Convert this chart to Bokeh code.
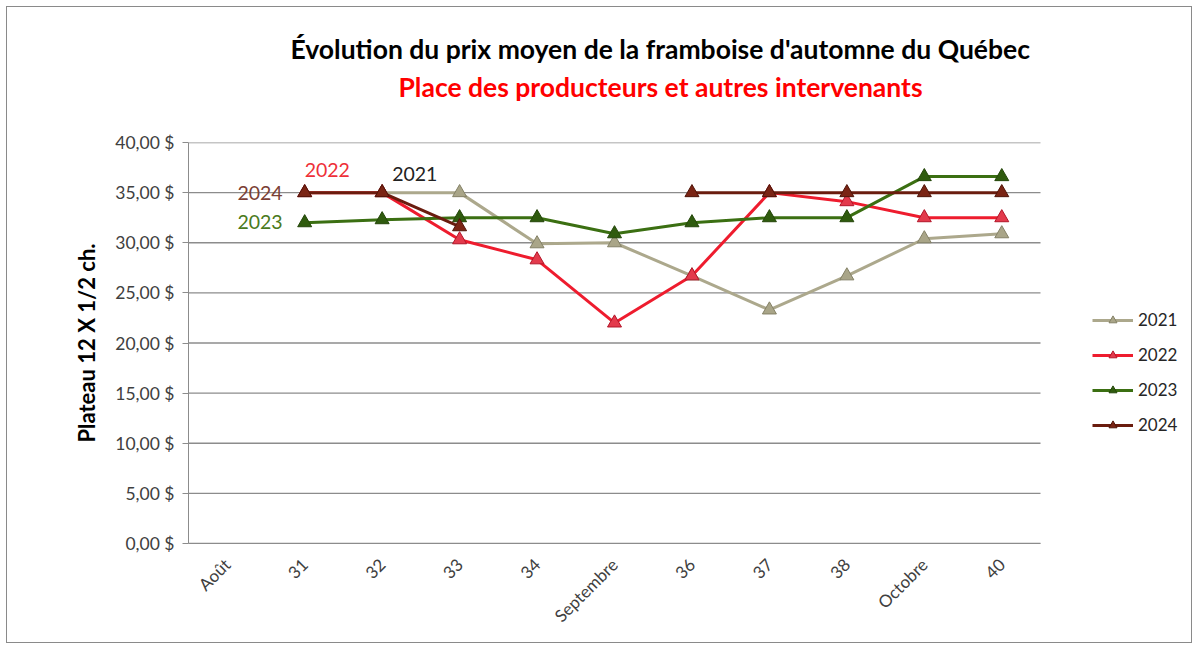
import math
from bokeh.plotting import figure
from bokeh.models import Range1d, FixedTicker, Legend, LegendItem, Title
from bokeh.core.properties import value
from bokeh.embed import file_html
from bokeh.resources import INLINE

nan = float("nan")
weeks = ["Août", "31", "32", "33", "34", "Septembre", "36", "37", "38", "Octobre", "40"]
prix_2021 = [nan, nan, 35.0, 35.0, 29.9, 30.0, 26.7, 23.3, 26.7, 30.4, 30.9]
prix_2022 = [nan, 35.0, 35.0, 30.3, 28.3, 22.0, 26.7, 35.0, 34.1, 32.5, 32.5]
prix_2023 = [nan, 32.0, 32.3, 32.5, 32.5, 30.9, 32.0, 32.5, 32.5, 36.6, 36.6]
prix_2024 = [nan, 35.0, 35.0, 31.6, nan, nan, 35.0, 35.0, 35.0, 35.0, 35.0]
y_ticks = [0, 5, 10, 15, 20, 25, 30, 35, 40]
y_tick_labels = ["0,00 $", "5,00 $", "10,00 $", "15,00 $", "20,00 $", "25,00 $",
                 "30,00 $", "35,00 $", "40,00 $"]
series_names = ["2021", "2022", "2023", "2024"]
title_text = "Évolution du prix moyen de la framboise d'automne du Québec"
subtitle_text = "Place des producteurs et autres intervenants"

FONT = "Lato"

# category slot positions on a numeric axis (slot i centred at i + 0.5)
xpos = [i + 0.5 for i in range(len(weeks))]
n = len(weeks)

def xof(cat):
    return xpos[weeks.index(cat)]

p = figure(width=1186, height=637, x_range=Range1d(0, n * 1005 / 852),
           y_range=Range1d(0, 40), output_backend="svg", toolbar_location=None,
           min_border_left=181, min_border_right=0, min_border_top=135,
           min_border_bottom=101, title=None)
p.outline_line_color = None
p.styles = {"border": "1px solid #8a8a8a", "margin-left": "6px", "margin-top": "6px"}

# axes
p.yaxis.ticker = FixedTicker(ticks=y_ticks)
p.yaxis.major_label_overrides = {t: l for t, l in zip(y_ticks, y_tick_labels)}
p.yaxis.minor_tick_line_color = None
p.yaxis.major_tick_out = 6
p.yaxis.major_tick_in = 0
p.yaxis.axis_line_color = "#8c8c8c"
p.yaxis.major_tick_line_color = "#8c8c8c"
p.yaxis.major_label_text_font = FONT
p.yaxis.major_label_text_font_size = "17.5px"
p.yaxis.major_label_text_color = "#404040"
p.yaxis.major_label_standoff = 8
p.yaxis.axis_label = "Plateau 12 X 1/2 ch."
p.yaxis.axis_label_text_font = FONT
p.yaxis.axis_label_text_font_size = "22px"
p.yaxis.axis_label_text_font_style = "bold"
p.yaxis.axis_label_text_color = "#000000"
p.yaxis.axis_label_standoff = 12

p.xaxis.ticker = FixedTicker(ticks=xpos)
p.xaxis.major_label_overrides = {x: w for x, w in zip(xpos, weeks)}
p.xaxis.bounds = (0, n)
p.xaxis.major_label_orientation = math.pi / 4
p.xaxis.major_label_text_font = FONT
p.xaxis.major_label_text_font_size = "17px"
p.xaxis.major_label_text_color = "#404040"
p.xaxis.axis_line_color = "#8c8c8c"
p.xaxis.major_tick_line_color = None
p.xaxis.minor_tick_line_color = None
p.xaxis.major_label_standoff = 12

p.xgrid.grid_line_color = None
p.ygrid.grid_line_color = None
# horizontal grid lines spanning only the category area
p.segment(x0=[0] * len(y_ticks), x1=[n] * len(y_ticks), y0=y_ticks, y1=y_ticks,
          line_color="#8c8c8c", line_width=1.3)

line_colors = ["#aca88c", "#ee1c2e", "#3b6f12", "#6a1c0e"]
fill_colors = ["#a9a588", "#e33a4c", "#2f5b0e", "#7a2414"]
edge_colors = ["#848166", "#b3172a", "#24460a", "#4f1408"]
all_series = [prix_2021, prix_2022, prix_2023, prix_2024]

items = []
for name, vals, lc, fc, ec in zip(series_names, all_series, line_colors, fill_colors, edge_colors):
    r1 = p.line(xpos, vals, line_color=lc, line_width=3)
    r2 = p.scatter(xpos, vals, marker="triangle", size=14, fill_color=fc, line_color=ec,
                   line_width=1)
    items.append(LegendItem(label=name, renderers=[r1, r2]))

legend = Legend(items=items, location=(904, 108), padding=0, margin=0, spacing=14,
                glyph_width=41, glyph_height=20, label_height=20, label_standoff=5,
                label_text_font=FONT, label_text_font_size="17px",
                label_text_color="#262626", background_fill_alpha=0,
                border_line_color=None)
p.add_layout(legend, "center")

# in-plot labels
lab_kw = dict(text_baseline="middle", text_font=value(FONT), text_font_size="19.5px")
p.text(x=[xof("31")], y=[35], text=["2024"], x_offset=-22, text_align="right",
       text_color="#7b3f35", **lab_kw)
p.text(x=[xof("31")], y=[32.1], text=["2023"], x_offset=-22, text_align="right",
       text_color="#4a7a20", **lab_kw)
p.text(x=[xof("31")], y=[37.3], text=["2022"], x_offset=0, text_align="left",
       text_color="#ee3038", **lab_kw)
p.text(x=[xof("32")], y=[36.9], text=["2021"], x_offset=10, text_align="left",
       text_color="#222222", **lab_kw)

# titles (stacked outward from the plot frame)
spacer = Title(text=" ", text_font=FONT, text_font_size="10px", standoff=24)
t2 = Title(text=subtitle_text, align="left", offset=210, text_font=FONT,
           text_font_size="26.5px", text_font_style="bold", text_color="#ff0000",
           standoff=4)
t1 = Title(text=title_text, align="left", offset=102, text_font=FONT,
           text_font_size="26.5px", text_font_style="bold", text_color="#000000",
           standoff=4)
p.add_layout(spacer, "above")
p.add_layout(t2, "above")
p.add_layout(t1, "above")

open("out.html", "w").write(file_html(p, INLINE))
